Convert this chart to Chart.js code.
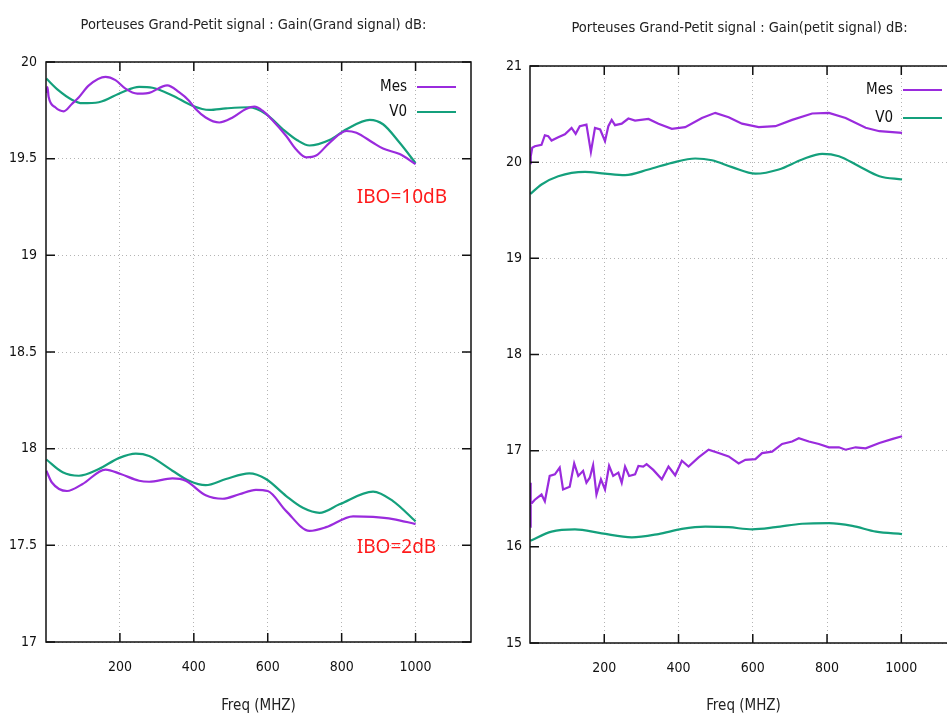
<!DOCTYPE html>
<html>
<head>
<meta charset="utf-8">
<script src="https://cdn.jsdelivr.net/npm/chart.js@4"></script>
<style>
  html, body { margin: 0; padding: 0; background: #fff; overflow: hidden; width: 947px; height: 717px; }
  .box { position: absolute; top: 0; width: 480px; height: 717px; }
</style>
</head>
<body>
<div class="box" style="left:0"><canvas id="gsChart" width="480" height="717"></canvas></div>
<div class="box" style="left:480px"><canvas id="psChart" width="480" height="717"></canvas></div>
<script>
// x ticks shared by both plots
var freqTicks = [200, 400, 600, 800, 1000];

// --- Gain (grand signal), IBO=10dB ---
var ibo10MesF = [1,4,7,25,48,70,89,116,161,188,215,247,262,279,328,360,387,405,432,469,505,541,564,586,614,650,677,704,731,767,813,840,885,912,957,1000];
var ibo10MesG = [19.84,19.87,19.82,19.766,19.745,19.783,19.818,19.879,19.923,19.906,19.862,19.836,19.836,19.84,19.879,19.844,19.80,19.757,19.713,19.687,19.713,19.757,19.769,19.748,19.696,19.617,19.547,19.507,19.516,19.582,19.643,19.634,19.582,19.552,19.524,19.472];
var ibo10V0F = [1,34,70,98,143,206,252,288,342,396,442,487,550,595,641,680,713,767,813,876,912,957,1000];
var ibo10V0G = [19.914,19.853,19.805,19.787,19.792,19.844,19.871,19.867,19.827,19.774,19.752,19.760,19.766,19.731,19.652,19.595,19.568,19.596,19.652,19.701,19.678,19.582,19.477];

// --- Gain (grand signal), IBO=2dB ---
var ibo2MesF = [1,16,57,98,161,202,252,279,342,378,432,478,523,568,600,650,713,758,831,885,939,1000];
var ibo2MesG = [17.886,17.825,17.781,17.816,17.892,17.869,17.834,17.829,17.846,17.834,17.759,17.741,17.764,17.787,17.781,17.677,17.575,17.594,17.650,17.647,17.636,17.610];
var ibo2V0F = [1,45,89,143,197,243,279,342,387,432,487,550,595,650,695,740,794,885,939,1000];
var ibo2V0G = [17.944,17.878,17.860,17.895,17.951,17.974,17.962,17.886,17.834,17.811,17.843,17.872,17.843,17.755,17.694,17.668,17.712,17.778,17.729,17.624];

// --- Gain (petit signal), upper pair ---
var psHiMesF = [1,2,6,13,31,40,49,58,76,94,112,123,134,152,164,175,189,202,211,220,229,247,265,283,319,346,382,418,463,499,535,571,616,661,706,760,805,850,904,941,1002];
var psHiMesG = [19.99,20.06,20.15,20.166,20.18,20.28,20.27,20.225,20.26,20.29,20.357,20.295,20.374,20.39,20.107,20.357,20.34,20.218,20.374,20.44,20.385,20.40,20.454,20.433,20.45,20.40,20.346,20.364,20.46,20.513,20.468,20.40,20.364,20.374,20.44,20.506,20.513,20.46,20.357,20.322,20.305];
var psHiV0F = [1,31,76,148,202,256,319,382,445,490,544,607,670,733,787,832,886,941,1002];
var psHiV0G = [19.67,19.768,19.854,19.90,19.88,19.865,19.924,19.993,20.038,20.02,19.948,19.88,19.924,20.028,20.087,20.062,19.958,19.854,19.82];

// --- Gain (petit signal), lower pair ---
var psLoMesF = [1,1.5,2,5,13,31,40,53,67,80,89,107,119,130,143,152,161,170,179,191,202,213,224,238,247,256,267,283,292,305,314,332,355,373,391,409,427,454,481,508,535,562,580,607,625,652,679,706,724,751,778,805,832,850,877,904,941,977,1002];
var psLoMesG = [16.21,16.667,16.45,16.456,16.49,16.544,16.474,16.737,16.754,16.825,16.596,16.625,16.867,16.737,16.79,16.667,16.719,16.849,16.544,16.702,16.596,16.842,16.737,16.772,16.667,16.835,16.737,16.754,16.842,16.835,16.86,16.80,16.702,16.835,16.744,16.895,16.835,16.93,17.01,16.975,16.94,16.867,16.905,16.912,16.975,16.99,17.07,17.095,17.13,17.095,17.07,17.035,17.035,17.01,17.035,17.025,17.08,17.123,17.15];
var psLoV0F = [1,58,121,193,274,346,409,472,535,598,661,733,805,868,932,1002];
var psLoV0G = [16.063,16.158,16.182,16.14,16.098,16.133,16.186,16.21,16.204,16.182,16.204,16.24,16.246,16.218,16.158,16.133];

var MES_COLOR = '#9a2bdd';
var V0_COLOR = '#14a07c';
var FONT = "'DejaVu Sans Condensed', 'Liberation Sans Narrow', 'DejaVu Sans', sans-serif";

function pts(f, g) {
  return f.map(function (x, i) { return { x: x, y: g[i] }; });
}

function series(f, g, color, smooth) {
  return {
    data: pts(f, g),
    borderColor: color,
    backgroundColor: color,
    borderWidth: 2.2,
    pointRadius: 0,
    fill: false,
    tension: smooth ? 0.4 : 0,
    cubicInterpolationMode: smooth ? 'monotone' : 'default'
  };
}

// gnuplot style frame: box, inward ticks, legend, title, labels
var gnuFrame = {
  id: 'gnuFrame',
  afterDraw: function (chart, args, o) {
    var ctx = chart.ctx, a = chart.chartArea;
    var xs = chart.scales.x, ys = chart.scales.y;
    ctx.save();
    ctx.strokeStyle = '#111';
    ctx.lineWidth = 1.5;
    ctx.strokeRect(a.left, a.top, a.right - a.left, a.bottom - a.top);
    ctx.beginPath();
    xs.ticks.forEach(function (t) {
      var px = xs.getPixelForValue(t.value);
      ctx.moveTo(px, a.bottom); ctx.lineTo(px, a.bottom - 9);
      ctx.moveTo(px, a.top); ctx.lineTo(px, a.top + 9);
    });
    ys.ticks.forEach(function (t) {
      var py = ys.getPixelForValue(t.value);
      ctx.moveTo(a.left, py); ctx.lineTo(a.left + 9, py);
      ctx.moveTo(a.right, py); ctx.lineTo(a.right - 9, py);
    });
    ctx.stroke();

    // title
    ctx.fillStyle = '#222';
    ctx.font = '14.5px ' + FONT;
    ctx.textAlign = 'center';
    ctx.textBaseline = 'middle';
    ctx.fillText(o.title, (a.left + a.right) / 2 + o.titleDx, o.titleY);

    // legend (text then line sample)
    ctx.font = '15px ' + FONT;
    ctx.textAlign = 'right';
    ctx.fillStyle = '#111';
    [['Mes', MES_COLOR], ['V0', V0_COLOR]].forEach(function (item, i) {
      var y = a.top + o.legendY + i * o.legendGap;
      ctx.fillText(item[0], a.right - 64, y);
      ctx.strokeStyle = item[1];
      ctx.lineWidth = 2.2;
      ctx.beginPath();
      ctx.moveTo(a.right - 54, y); ctx.lineTo(a.right - 15, y);
      ctx.stroke();
    });

    // red labels
    ctx.font = "19px 'Noto Sans', 'Open Sans', sans-serif";
    ctx.textAlign = 'left';
    ctx.fillStyle = '#ff1a1a';
    (o.notes || []).forEach(function (n) {
      ctx.fillText(n.text, xs.getPixelForValue(n.x), ys.getPixelForValue(n.y));
    });
    ctx.restore();
  }
};

function makeChart(id, datasets, yMin, yMax, yStep, cfg) {
  return new Chart(document.getElementById(id), {
    type: 'line',
    data: { datasets: datasets },
    plugins: [gnuFrame],
    options: {
      responsive: false,
      animation: false,
      events: [],
      layout: { padding: { left: 0, top: cfg.top, right: cfg.right, bottom: 0 } },
      plugins: {
        legend: { display: false },
        tooltip: { enabled: false },
        gnuFrame: cfg.frame
      },
      scales: {
        x: {
          type: 'linear',
          min: 0,
          max: 1150,
          afterBuildTicks: function (s) {
            s.ticks = freqTicks.map(function (v) { return { value: v }; });
          },
          afterFit: function (s) { s.height = 717 - cfg.bottom; },
          ticks: {
            padding: 17,
            color: '#111',
            font: { family: FONT, size: 14 },
            callback: function (v) { return String(v); }
          },
          grid: { color: '#b4b4b4', drawTicks: false },
          border: { display: false, dash: [1, 3] },
          title: {
            display: true,
            text: 'Freq (MHZ)',
            color: '#222',
            font: { family: FONT, size: 15 },
            padding: { top: 0, bottom: 2 }
          }
        },
        y: {
          min: yMin,
          max: yMax,
          afterFit: function (s) { s.width = cfg.left; },
          ticks: {
            stepSize: yStep,
            padding: cfg.yPad,
            color: '#111',
            font: { family: FONT, size: 14 },
            callback: function (v) { return String(Math.round(v * 10) / 10); }
          },
          grid: { color: '#b4b4b4', drawTicks: false },
          border: { display: false, dash: [1, 3] }
        }
      }
    }
  });
}

makeChart('gsChart', [
  series(ibo10MesF, ibo10MesG, MES_COLOR, true),
  series(ibo10V0F, ibo10V0G, V0_COLOR, true),
  series(ibo2MesF, ibo2MesG, MES_COLOR, true),
  series(ibo2V0F, ibo2V0G, V0_COLOR, true)
], 17, 20, 0.5, {
  top: 62, right: 9, bottom: 642, left: 46, yPad: 9,
  frame: {
    title: 'Porteuses Grand-Petit signal : Gain(Grand signal) dB:',
    titleDx: -5, titleY: 25, legendY: 25, legendGap: 25,
    notes: [{ text: 'IBO=10dB', x: 841, y: 19.30 }, { text: 'IBO=2dB', x: 841, y: 17.486 }]
  }
});

makeChart('psChart', [
  series(psHiMesF, psHiMesG, MES_COLOR, false),
  series(psHiV0F, psHiV0G, V0_COLOR, true),
  series(psLoMesF, psLoMesG, MES_COLOR, false),
  series(psLoV0F, psLoV0G, V0_COLOR, true)
], 15, 21, 1, {
  top: 66, right: 3, bottom: 643, left: 50, yPad: 8,
  frame: {
    title: 'Porteuses Grand-Petit signal : Gain(petit signal) dB:',
    titleDx: -4, titleY: 28, legendY: 24, legendGap: 28,
    notes: []
  }
});
</script>
</body>
</html>
